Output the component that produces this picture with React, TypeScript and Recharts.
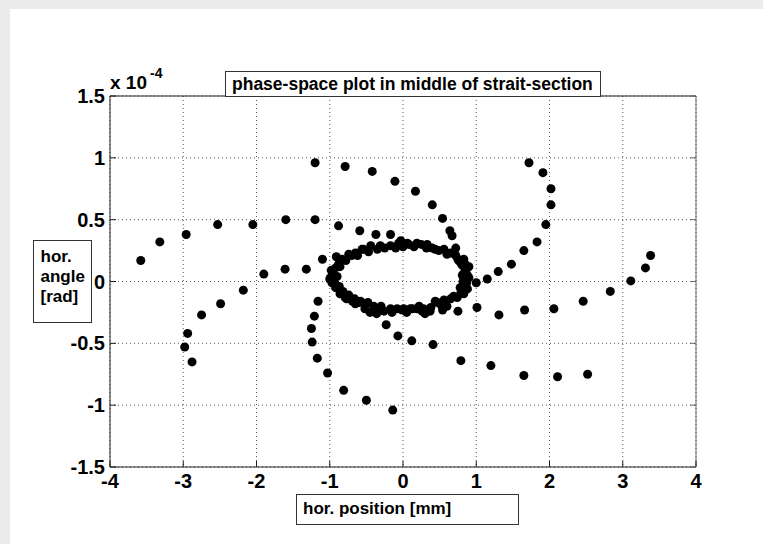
import React from "react";
import { ScatterChart, Scatter, XAxis, YAxis, CartesianGrid } from "recharts";

// Axis ticks and their printed labels (angle axis is in units of 1e-4 rad)
const xTicks = [-4, -3, -2, -1, 0, 1, 2, 3, 4];
const xTickLabels = ["-4", "-3", "-2", "-1", "0", "1", "2", "3", "4"];
const yTicks = [-1.5, -1, -0.5, 0, 0.5, 1, 1.5];
const yTickLabels = ["-1.5", "-1", "-0.5", "0", "0.5", "1", "1.5"];

const titleText = "phase-space plot in middle of strait-section";
const xLabelText = "hor. position [mm]";
const yLabelLines = ["hor.", "angle", "[rad]"];

type Pt = [number, number];

// Tracked particle turns: [position mm, angle 1e-4 rad]
const outerLeftArm: Pt[] = [
  [-3.58, 0.17], [-3.32, 0.32], [-2.96, 0.38], [-2.53, 0.46], [-2.05, 0.46],
  [-1.6, 0.5], [-1.2, 0.5], [-0.88, 0.45], [-0.59, 0.41], [-0.37, 0.38], [-0.17, 0.38],
];
const upperArc: Pt[] = [
  [-1.2, 0.96], [-0.79, 0.93], [-0.42, 0.89], [-0.11, 0.81], [0.17, 0.73],
  [0.4, 0.62], [0.54, 0.51], [0.64, 0.41], [0.67, 0.37], [0.72, 0.27],
  [0.75, 0.18], [0.85, 0.14], [0.9, 0.12], [0.82, 0.06],
];
const rightUpperArc: Pt[] = [
  [1.72, 0.96], [1.91, 0.88], [2.02, 0.75], [2.02, 0.62], [1.95, 0.46],
  [1.83, 0.32], [1.65, 0.25], [1.48, 0.14], [1.3, 0.08], [1.15, 0.02], [1.0, -0.01],
];
const rightArm: Pt[] = [
  [3.38, 0.21], [3.31, 0.11], [3.11, 0.005], [2.83, -0.08], [2.46, -0.16],
  [2.06, -0.22], [1.66, -0.23], [1.31, -0.27], [1.01, -0.21], [0.75, -0.24], [0.54, -0.23],
];
const lowerRightArc: Pt[] = [
  [-0.23, -0.35], [-0.07, -0.44], [0.12, -0.48], [0.41, -0.51], [0.79, -0.64],
  [1.2, -0.68], [1.65, -0.76], [2.11, -0.77], [2.52, -0.75],
];
const lowerLeftArc: Pt[] = [
  [-1.16, -0.16], [-1.21, -0.28], [-1.25, -0.38], [-1.24, -0.49], [-1.17, -0.62],
  [-1.03, -0.74], [-0.81, -0.88], [-0.5, -0.96], [-0.14, -1.04],
];
const outerLowerArm: Pt[] = [
  [-2.94, -0.42], [-2.98, -0.53], [-2.88, -0.65], [-2.75, -0.27], [-2.49, -0.18], [-2.18, -0.07],
];
const middleArm: Pt[] = [
  [-1.9, 0.06], [-1.61, 0.1], [-1.32, 0.1], [-1.1, 0.18], [-0.91, 0.2],
];
const coreRing: Pt[] = [
  [-0.92, 0.11], [-0.83, 0.18], [-0.74, 0.22], [-0.65, 0.23], [-0.56, 0.26],
  [-0.54, 0.26], [-0.44, 0.29], [-0.31, 0.29], [-0.17, 0.29], [-0.06, 0.31],
  [-0.03, 0.33], [0.06, 0.31], [0.08, 0.3], [0.19, 0.31], [0.33, 0.3],
  [0.32, 0.27], [0.44, 0.26], [0.49, 0.25], [0.56, 0.26], [0.65, 0.23],
  [0.72, 0.21], [0.76, 0.17], [0.79, 0.15], [0.81, 0.13], [0.85, 0.09],
  [0.88, 0.11], [0.88, 0.05], [0.81, 0.05], [0.87, -0.01], [0.88, -0.06],
  [0.85, -0.05], [0.83, -0.1], [0.79, -0.09], [0.74, -0.13], [0.69, -0.12],
  [0.65, -0.14], [0.56, -0.15], [0.47, -0.17], [0.44, -0.16], [0.38, -0.21],
  [0.37, -0.24], [0.28, -0.22], [0.26, -0.24], [0.22, -0.2], [0.19, -0.22],
  [0.13, -0.22], [0.1, -0.22], [0.01, -0.22], [-0.01, -0.23], [-0.08, -0.22],
  [-0.17, -0.22], [-0.26, -0.24], [-0.35, -0.24], [-0.36, -0.26], [-0.4, -0.2],
  [-0.51, -0.18], [-0.52, -0.22], [-0.6, -0.17], [-0.65, -0.18], [-0.69, -0.16],
  [-0.77, -0.14], [-0.79, -0.13], [-0.85, -0.09], [-0.86, -0.1], [-0.92, -0.05],
  [-0.97, -0.01], [-0.99, 0.03], [-0.98, 0.09], [-0.95, 0.06], [-1.0, 0.02],
  [-0.93, -0.02], [-0.88, 0.14], [-0.7, 0.21],
];
const coreRingInner: Pt[] = [
  [-0.9, 0.04], [-0.87, -0.04], [-0.82, -0.08], [-0.74, -0.11], [-0.66, -0.14],
  [-0.58, -0.16], [-0.48, -0.17], [-0.3, -0.2], [-0.86, 0.12], [-0.78, 0.17],
  [-0.62, 0.21], [-0.47, 0.24], [-0.35, 0.26], [-0.25, 0.27], [-0.45, -0.25],
  [-0.15, -0.25], [0.05, -0.25], [0.3, -0.26], [0.52, -0.19], [0.6, -0.2],
  [0.82, 0.0], [0.78, -0.05], [0.9, 0.03], [0.83, 0.18], [0.0, 0.28],
  [0.15, 0.28], [0.25, 0.3], [0.4, 0.27], [0.6, 0.22], [-0.1, 0.27],
];

const turns: Pt[][] = [
  outerLeftArm, upperArc, rightUpperArc, rightArm, lowerRightArc,
  lowerLeftArc, outerLowerArm, middleArm, coreRing, coreRingInner,
];
const points = turns.flat().map(([x, y]) => ({ x, y }));

const AXIS = "#1e1e1e";
const TICK_LEN = 6;
const FONT = '"Liberation Sans", Arial, Helvetica, sans-serif';

const BottomTick = (props: any) => {
  const { x, y, index } = props;
  return (
    <g>
      <line x1={x} x2={x} y1={y} y2={y - TICK_LEN} stroke={AXIS} />
      <text x={x} y={y + 21} textAnchor="middle" fontSize={20} fontWeight="bold" fontFamily={FONT} fill="#000">
        {xTickLabels[index]}
      </text>
    </g>
  );
};

const LeftTick = (props: any) => {
  const { x, y, index } = props;
  return (
    <g>
      <line x1={x} x2={x + TICK_LEN} y1={y} y2={y} stroke={AXIS} />
      <text x={x - 5} y={y + 7} textAnchor="end" fontSize={20} fontWeight="bold" fontFamily={FONT} fill="#000">
        {yTickLabels[index]}
      </text>
    </g>
  );
};

const TopTick = (props: any) => {
  const { x, y } = props;
  return <line x1={x} x2={x} y1={y} y2={y + TICK_LEN} stroke={AXIS} />;
};

const RightTick = (props: any) => {
  const { x, y } = props;
  return <line x1={x} x2={x - TICK_LEN} y1={y} y2={y} stroke="#666" />;
};

const Dot = (props: any) => {
  const { cx, cy } = props;
  return <circle cx={cx} cy={cy} r={4.5} fill="#000" />;
};

export default function App() {
  return (
    <div style={{ position: "absolute", left: 0, top: 0, width: 763, height: 544, background: "#ebebeb", overflow: "hidden" }}>
      <div style={{ position: "absolute", left: 10, top: 9, right: 0, bottom: 0, background: "#fff" }} />
      <div style={{ position: "absolute", left: 0, top: 0 }}>
        <ScatterChart width={763} height={544} margin={{ top: 91, right: 62, bottom: 47, left: 50 }}>
          <CartesianGrid xAxisId="b" yAxisId="l" stroke="#555" strokeDasharray="1 3" />
          <XAxis
            xAxisId="b" type="number" dataKey="x" orientation="bottom" domain={[-4, 4]} ticks={xTicks}
            interval={0} height={30} tickSize={0} tickMargin={0} tickLine={false}
            axisLine={{ stroke: AXIS }} tick={BottomTick} allowDataOverflow
          />
          <XAxis
            xAxisId="t" type="number" orientation="top" domain={[-4, 4]} ticks={xTicks}
            interval={0} height={5} tickSize={0} tickMargin={0} tickLine={false}
            axisLine={{ stroke: AXIS }} tick={TopTick} allowDataOverflow
          />
          <YAxis
            yAxisId="l" type="number" dataKey="y" orientation="left" domain={[-1.5, 1.5]} ticks={yTicks}
            interval={0} width={60} tickSize={0} tickMargin={0} tickLine={false}
            axisLine={{ stroke: AXIS }} tick={LeftTick} allowDataOverflow
          />
          <YAxis
            yAxisId="r" type="number" orientation="right" domain={[-1.5, 1.5]} ticks={yTicks}
            interval={0} width={5} tickSize={0} tickMargin={0} tickLine={false}
            axisLine={{ stroke: "#666" }} tick={RightTick} allowDataOverflow
          />
          <Scatter xAxisId="b" yAxisId="l" data={points} shape={Dot} isAnimationActive={false} />
        </ScatterChart>
      </div>
      <svg width={763} height={544} style={{ position: "absolute", left: 0, top: 0, pointerEvents: "none" }}>
        <g fontFamily={FONT} fontWeight="bold" fill="#000">
          <text x={110} y={89} fontSize={19}>x 10</text>
          <text x={150} y={78} fontSize={14}>-4</text>

          <rect x={225.5} y={71.5} width={375} height={25} fill="#fff" stroke="#333" />
          <text x={232} y={90} fontSize={17.5}>{titleText}</text>

          <rect x={33.5} y={240.5} width={58} height={82} fill="#fff" stroke="#333" />
          {yLabelLines.map((t, i) => (
            <text key={t} x={40.5} y={262 + i * 20} fontSize={17}>{t}</text>
          ))}

          <rect x={296.5} y={494.5} width={222} height={30} fill="#fff" stroke="#333" />
          <text x={303} y={514} fontSize={17}>{xLabelText}</text>
        </g>
      </svg>
    </div>
  );
}
